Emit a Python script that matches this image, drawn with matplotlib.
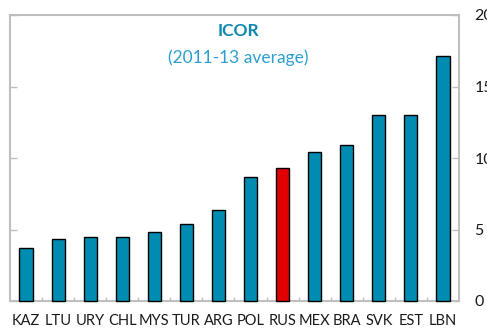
import matplotlib
matplotlib.use('Agg')
import matplotlib.pyplot as plt
import numpy as np
from matplotlib.ticker import MultipleLocator, FixedLocator

plt.rcParams['font.family'] = ['Lato', 'DejaVu Sans']

countries = ['KAZ', 'LTU', 'URY', 'CHL', 'MYS', 'TUR', 'ARG', 'POL',
             'RUS', 'MEX', 'BRA', 'SVK', 'EST', 'LBN']
icor = [3.73, 4.35, 4.51, 4.51, 4.84, 5.39, 6.34, 8.68,
        9.32, 10.43, 10.89, 12.98, 12.98, 17.14]
highlight = 'RUS'

teal = '#008BB0'
red = '#E00000'
grey = '#BFBFBF'

fig = plt.figure(figsize=(4.87, 3.30), dpi=100)
ax = fig.add_axes([10/487, 29/330, 449/487, 286/330])

x = np.arange(len(countries))
colors = [red if c == highlight else teal for c in countries]
bars = ax.bar(x, icor, width=0.41, color=colors, edgecolor='black',
              linewidth=1.0, zorder=2)
for b in bars:
    b.set_clip_on(False)

ax.set_xlim(-0.5, len(countries) - 0.5)
ax.set_ylim(0, 20)

for s in ax.spines.values():
    s.set_color(grey)
    s.set_linewidth(1.5)
    s.set_zorder(1)

ax.yaxis.set_major_locator(MultipleLocator(5))
ax.tick_params(axis='y', which='major', direction='in', length=5, width=1,
               color=grey, left=True, right=True, labelleft=False,
               labelright=True, labelsize=11.5, pad=11, labelcolor='#1a1a1a')

ax.set_xticks(x)
ax.set_xticklabels(countries)
ax.xaxis.set_minor_locator(FixedLocator(x[:-1] + 0.5))
ax.tick_params(axis='x', which='major', length=0, labelsize=10.5, pad=9.5,
               labelcolor='#1a1a1a')
ax.tick_params(axis='x', which='minor', direction='in', length=3, width=1,
               color=grey)

ax.text(0.508, 0.945, 'ICOR', transform=ax.transAxes, ha='center',
        va='center', fontsize=12.5, fontweight='bold', color='#0E86B0')
ax.text(0.508, 0.85, '(2011-13 average)', transform=ax.transAxes,
        ha='center', va='center', fontsize=12.5, color='#2A9FD0')

fig.savefig('out.png', dpi=100)
